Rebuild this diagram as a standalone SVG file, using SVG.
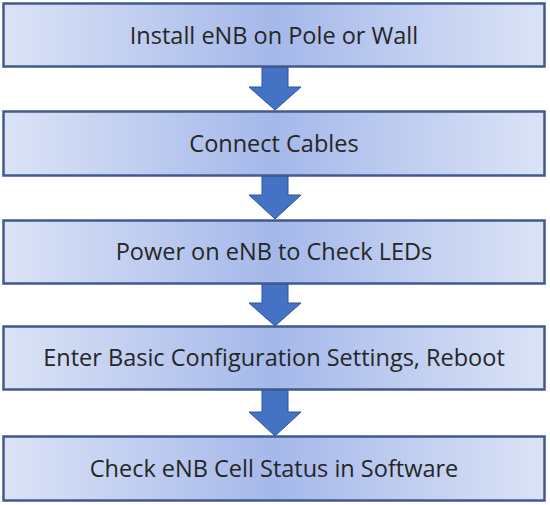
<svg xmlns="http://www.w3.org/2000/svg" width="550" height="505" viewBox="0 0 550 505">
<defs>
<linearGradient id="g" x1="0" y1="0" x2="1" y2="0">
<stop offset="0" stop-color="#dbe3f6"/>
<stop offset="0.5" stop-color="#a5b8ea"/>
<stop offset="1" stop-color="#dbe3f6"/>
</linearGradient>
</defs>
<style>
.box{fill:url(#g);stroke:#41598c;stroke-width:2.5}
.lbl{font-family:"Open Sans","Liberation Sans",Arial,sans-serif;font-size:23.5px;fill:#262626;text-anchor:middle}
.arr{fill:#4472c4;stroke:#2f5597;stroke-width:1}
</style>
<g id="connectors">
<path class="arr" d="M262 67 H288 V87 H301 L275 110 L249 87 H262 Z"/>
<path class="arr" d="M262 176 H288 V195 H301 L275 219 L249 195 H262 Z"/>
<path class="arr" d="M262 284 H288 V303 H301 L275 326 L249 303 H262 Z"/>
<path class="arr" d="M262 390 H288 V412 H301 L275 436 L249 412 H262 Z"/>
</g>
<g id="n1"><rect class="box" x="3.5" y="3.5" width="541" height="63"/><text class="lbl" x="274" y="43.5">Install eNB on Pole or Wall</text></g>
<g id="n2"><rect class="box" x="3.5" y="111.5" width="541" height="64"/><text class="lbl" x="274" y="152">Connect Cables</text></g>
<g id="n3"><rect class="box" x="3.5" y="220.5" width="541" height="63"/><text class="lbl" x="274" y="260">Power on eNB to Check LEDs</text></g>
<g id="n4"><rect class="box" x="3.5" y="326.5" width="541" height="63"/><text class="lbl" x="274" y="366">Enter Basic Configuration Settings, Reboot</text></g>
<g id="n5"><rect class="box" x="3.5" y="436.5" width="541" height="64"/><text class="lbl" x="274" y="477">Check eNB Cell Status in Software</text></g>
</svg>
